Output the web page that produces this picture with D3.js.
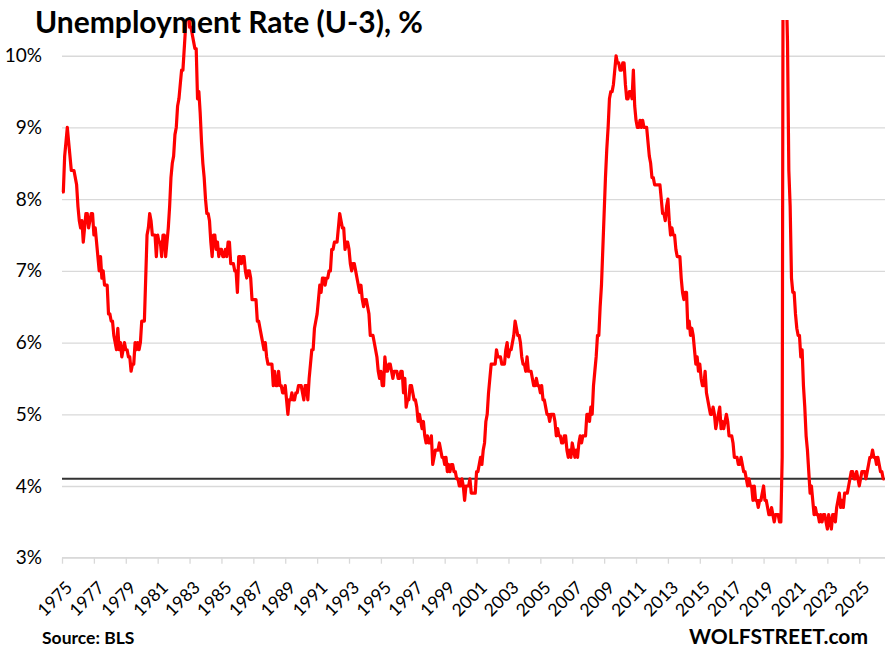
<!DOCTYPE html>
<html>
<head>
<meta charset="utf-8">
<script src="https://cdn.jsdelivr.net/npm/d3@7"></script>
<style>
  body { margin: 0; background: #fff; }
  svg { display: block; font-family: Lato, "Open Sans", sans-serif; }
</style>
</head>
<body>
<div id="vis"></div>
<script>
// monthly U-3 unemployment rate, %, starting Jan 1975
const startYear = 1975;

const u3_1975_1984 = [
  8.1, 8.1, 8.6, 8.8, 9.0, 8.8, 8.6, 8.4, 8.4, 8.4, 8.3, 8.2,
  7.9, 7.7, 7.6, 7.7, 7.4, 7.6, 7.8, 7.8, 7.6, 7.7, 7.8, 7.8,
  7.5, 7.6, 7.4, 7.2, 7.0, 7.2, 6.9, 7.0, 6.8, 6.8, 6.8, 6.4,
  6.4, 6.3, 6.3, 6.1, 6.0, 5.9, 6.2, 5.9, 6.0, 5.8, 5.9, 6.0,
  5.9, 5.9, 5.8, 5.8, 5.6, 5.7, 5.7, 6.0, 5.9, 6.0, 5.9, 6.0,
  6.3, 6.3, 6.3, 6.9, 7.5, 7.6, 7.8, 7.7, 7.5, 7.5, 7.5, 7.2,
  7.5, 7.4, 7.4, 7.2, 7.5, 7.5, 7.2, 7.4, 7.6, 7.9, 8.3, 8.5,
  8.6, 8.9, 9.0, 9.3, 9.4, 9.6, 9.8, 9.8, 10.1, 10.4, 10.8, 10.8,
  10.4, 10.4, 10.3, 10.2, 10.1, 10.1, 9.4, 9.5, 9.2, 8.8, 8.5, 8.3,
  8.0, 7.8, 7.8, 7.7, 7.4, 7.2, 7.5, 7.5, 7.3, 7.4, 7.2, 7.3
];

const u3_1985_1994 = [
  7.3, 7.2, 7.2, 7.3, 7.2, 7.4, 7.4, 7.1, 7.1, 7.1, 7.0, 7.0,
  6.7, 7.2, 7.2, 7.1, 7.2, 7.2, 7.0, 6.9, 7.0, 7.0, 6.9, 6.6,
  6.6, 6.6, 6.6, 6.3, 6.3, 6.2, 6.1, 6.0, 5.9, 6.0, 5.8, 5.7,
  5.7, 5.7, 5.7, 5.4, 5.6, 5.4, 5.4, 5.6, 5.4, 5.4, 5.3, 5.3,
  5.4, 5.2, 5.0, 5.2, 5.2, 5.3, 5.2, 5.2, 5.3, 5.3, 5.4, 5.4,
  5.4, 5.3, 5.2, 5.4, 5.4, 5.2, 5.5, 5.7, 5.9, 5.9, 6.2, 6.3,
  6.4, 6.6, 6.8, 6.7, 6.9, 6.9, 6.8, 6.9, 6.9, 7.0, 7.0, 7.3,
  7.3, 7.4, 7.4, 7.4, 7.6, 7.8, 7.7, 7.6, 7.6, 7.3, 7.4, 7.4,
  7.3, 7.1, 7.0, 7.1, 7.1, 7.0, 6.9, 6.8, 6.7, 6.8, 6.6, 6.5,
  6.6, 6.6, 6.5, 6.4, 6.1, 6.1, 6.1, 6.0, 5.9, 5.8, 5.6, 5.5
];

const u3_1995_2004 = [
  5.6, 5.4, 5.4, 5.8, 5.6, 5.6, 5.7, 5.7, 5.6, 5.5, 5.6, 5.6,
  5.6, 5.5, 5.5, 5.6, 5.6, 5.3, 5.5, 5.1, 5.2, 5.2, 5.4, 5.4,
  5.3, 5.2, 5.2, 5.1, 4.9, 5.0, 4.9, 4.8, 4.9, 4.7, 4.6, 4.7,
  4.6, 4.6, 4.7, 4.3, 4.4, 4.5, 4.5, 4.5, 4.6, 4.5, 4.4, 4.4,
  4.3, 4.4, 4.2, 4.3, 4.2, 4.3, 4.3, 4.2, 4.2, 4.1, 4.1, 4.0,
  4.0, 4.1, 4.0, 3.8, 4.0, 4.0, 4.0, 4.1, 3.9, 3.9, 3.9, 3.9,
  4.2, 4.2, 4.3, 4.4, 4.3, 4.5, 4.6, 4.9, 5.0, 5.3, 5.5, 5.7,
  5.7, 5.7, 5.7, 5.9, 5.8, 5.8, 5.8, 5.7, 5.7, 5.7, 5.9, 6.0,
  5.8, 5.9, 5.9, 6.0, 6.1, 6.3, 6.2, 6.1, 6.1, 6.0, 5.8, 5.7,
  5.7, 5.6, 5.8, 5.6, 5.6, 5.6, 5.5, 5.4, 5.4, 5.5, 5.4, 5.4
];

const u3_2005_2014 = [
  5.3, 5.4, 5.2, 5.2, 5.1, 5.0, 5.0, 4.9, 5.0, 5.0, 5.0, 4.9,
  4.7, 4.8, 4.7, 4.7, 4.6, 4.6, 4.7, 4.7, 4.5, 4.4, 4.5, 4.4,
  4.6, 4.5, 4.4, 4.5, 4.4, 4.6, 4.7, 4.6, 4.7, 4.7, 4.7, 5.0,
  5.0, 4.9, 5.1, 5.0, 5.4, 5.6, 5.8, 6.1, 6.1, 6.5, 6.8, 7.3,
  7.8, 8.3, 8.7, 9.0, 9.4, 9.5, 9.5, 9.6, 9.8, 10.0, 9.9, 9.9,
  9.8, 9.8, 9.9, 9.9, 9.6, 9.4, 9.4, 9.5, 9.5, 9.4, 9.8, 9.3,
  9.1, 9.0, 9.0, 9.1, 9.0, 9.1, 9.0, 9.0, 9.0, 8.8, 8.6, 8.5,
  8.3, 8.3, 8.2, 8.2, 8.2, 8.2, 8.2, 8.0, 7.8, 7.8, 7.7, 7.9,
  8.0, 7.7, 7.5, 7.6, 7.5, 7.5, 7.3, 7.2, 7.2, 7.2, 6.9, 6.7,
  6.6, 6.7, 6.7, 6.2, 6.3, 6.1, 6.2, 6.1, 5.9, 5.7, 5.8, 5.6
];

const u3_2015_2026 = [
  5.7, 5.5, 5.4, 5.4, 5.6, 5.3, 5.2, 5.1, 5.0, 5.0, 5.1, 5.0,
  4.8, 4.9, 5.0, 5.1, 4.8, 4.9, 4.8, 4.9, 5.0, 4.9, 4.7, 4.7,
  4.7, 4.6, 4.4, 4.4, 4.4, 4.3, 4.3, 4.4, 4.3, 4.2, 4.2, 4.1,
  4.0, 4.1, 4.0, 4.0, 3.8, 4.0, 3.8, 3.8, 3.7, 3.8, 3.8, 3.9,
  4.0, 3.8, 3.8, 3.7, 3.6, 3.6, 3.7, 3.6, 3.5, 3.6, 3.6, 3.6,
  3.5, 3.5, 4.4, 14.8, 13.2, 11.0, 10.2, 8.4, 7.9, 6.9, 6.7, 6.7,
  6.4, 6.2, 6.1, 6.1, 5.8, 5.9, 5.4, 5.1, 4.7, 4.5, 4.2, 3.9,
  4.0, 3.8, 3.6, 3.7, 3.6, 3.6, 3.5, 3.6, 3.5, 3.6, 3.6, 3.5,
  3.4, 3.6, 3.5, 3.4, 3.6, 3.6, 3.5, 3.7, 3.8, 3.9, 3.7, 3.8,
  3.7, 3.9, 3.9, 3.9, 4.0, 4.1, 4.2, 4.2, 4.1, 4.1, 4.2, 4.1,
  4.0, 4.1, 4.2, 4.2, 4.2, 4.1, 4.2, 4.3, 4.4, 4.4, 4.5, 4.4,
  4.4, 4.3, 4.4, 4.3, 4.2, 4.2, 4.1, 4.1
];

const yTicks = [3, 4, 5, 6, 7, 8, 9, 10];
const xTickYears = d3.range(1975, 2026, 2);
const refLevel = 4.1;

function createChart() {
  const width = 890;
  const height = 651;

  const rates = [].concat(u3_1975_1984, u3_1985_1994, u3_1995_2004, u3_2005_2014, u3_2015_2026);
  const data = rates.map((v, i) => ({ t: startYear + i / 12, v: v }));

  const x = d3.scaleLinear()
    .domain([startYear, startYear + (rates.length - 1) / 12])
    .range([62, 884.5]);

  const y = d3.scaleLinear()
    .domain([3, 10.5])
    .range([557.7, 19.9]);

  const svg = d3.select("#vis")
    .append("svg")
    .attr("width", width)
    .attr("height", height)
    .attr("viewBox", [0, 0, width, height]);

  // gridlines + y labels
  const yAxis = svg.append("g")
    .attr("transform", "translate(62,0)")
    .call(d3.axisLeft(y)
      .tickValues(yTicks)
      .tickSize(-(885 - 62))
      .tickPadding(20)
      .tickFormat(d => d + "%"));
  yAxis.select(".domain").remove();
  yAxis.selectAll(".tick line")
    .attr("stroke", "#d9d9d9")
    .attr("stroke-width", 1.3);
  yAxis.selectAll(".tick text")
    .attr("fill", "#000")
    .attr("font-size", 19)
    .attr("font-family", "Lato, 'Open Sans', sans-serif");

  // x axis with rotated year labels
  const xAxis = svg.append("g")
    .attr("transform", "translate(0,557.7)")
    .call(d3.axisBottom(x)
      .tickValues(xTickYears)
      .tickSize(6)
      .tickSizeOuter(0)
      .tickFormat(d3.format("d")));
  xAxis.select(".domain")
    .attr("stroke", "#d9d9d9")
    .attr("stroke-width", 1.3)
    .attr("d", "M62,0H885");
  xAxis.selectAll(".tick line")
    .attr("stroke", "#d9d9d9")
    .attr("stroke-width", 1.3);
  xAxis.selectAll(".tick text")
    .attr("x", 0)
    .attr("y", 0)
    .attr("dy", 0)
    .attr("transform", "translate(11,31) rotate(-45)")
    .attr("text-anchor", "end")
    .attr("fill", "#000")
    .attr("font-size", 17.5)
    .attr("font-family", "Lato, 'Open Sans', sans-serif");

  // reference line at the latest level
  svg.append("line")
    .attr("x1", 62)
    .attr("x2", 885)
    .attr("y1", y(refLevel))
    .attr("y2", y(refLevel))
    .attr("stroke", "#333")
    .attr("stroke-width", 2);

  svg.append("clipPath")
    .attr("id", "plot-clip")
    .append("rect")
    .attr("x", 50)
    .attr("y", y(10.5))
    .attr("width", 840)
    .attr("height", 557.7 - y(10.5) + 20);

  const line = d3.line()
    .x(d => x(d.t))
    .y(d => y(d.v));

  svg.append("path")
    .datum(data)
    .attr("clip-path", "url(#plot-clip)")
    .attr("fill", "none")
    .attr("stroke", "#ff0000")
    .attr("stroke-width", 3.2)
    .attr("stroke-linejoin", "round")
    .attr("d", line);

  svg.append("text")
    .attr("x", 35)
    .attr("y", 32.5)
    .attr("font-size", 30)
    .attr("font-weight", "bold")
    .text("Unemployment Rate (U-3), %");

  svg.append("text")
    .attr("x", 42)
    .attr("y", 643.5)
    .attr("font-size", 17.5)
    .attr("font-weight", "bold")
    .text("Source: BLS");

  svg.append("text")
    .attr("x", 868)
    .attr("y", 644)
    .attr("text-anchor", "end")
    .attr("font-size", 21)
    .attr("font-weight", "bold")
    .text("WOLFSTREET.com");
}

window.addEventListener("load", createChart);
</script>
</body>
</html>
